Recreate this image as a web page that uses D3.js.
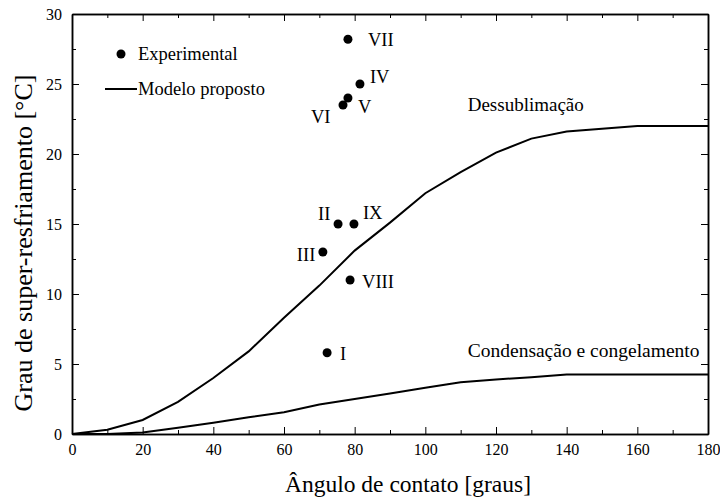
<!DOCTYPE html>
<html>
<head>
<meta charset="utf-8">
<script src="https://cdn.jsdelivr.net/npm/d3@7"></script>
<style>
  body { margin: 0; background: #fff; }
  svg text { font-family: "Liberation Serif", "Times New Roman", serif !important; }
</style>
</head>
<body>
<div id="chart"></div>
<script>
// model curves
const angles = [0, 10, 20, 30, 40, 50, 60, 70, 80, 90, 100, 110, 120, 130, 140, 150, 160, 170, 180];
const dessublimacao = [0, 0.3, 1, 2.3, 4, 5.9, 8.3, 10.6, 13.1, 15.1, 17.2, 18.7, 20.1, 21.1, 21.6, 21.8, 22, 22, 22];
const condensacao = [0, 0, 0.1, 0.45, 0.8, 1.2, 1.55, 2.1, 2.5, 2.9, 3.3, 3.7, 3.9, 4.05, 4.25, 4.25, 4.25, 4.25, 4.25];

// experimental points
const expLabels = ["I", "II", "III", "IV", "V", "VI", "VII", "VIII", "IX"];
const expAngle = [72.2, 75.3, 71, 81.5, 78.1, 76.7, 78.1, 78.7, 79.8];
const expSuper = [5.8, 15, 13, 25, 24, 23.5, 28.2, 11, 15];
// label offsets (dx, dy) relative to point
const labelOffsets = {
  I: [13, 7], II: [-20, -4], III: [-26, 9], IV: [10, -1], V: [10, 15],
  VI: [-32, 18], VII: [20, 7], VIII: [12, 8], IX: [9, -5]
};

const xTicks = [0, 20, 40, 60, 80, 100, 120, 140, 160, 180];
const yTicks = [0, 5, 10, 15, 20, 25, 30];

const W = 720, H = 499;
const margin = {top: 14, right: 12, bottom: 65, left: 72};
const FONT = "Liberation Serif";

const svg = d3.select("#chart").append("svg")
  .attr("width", W).attr("height", H);

const x = d3.scaleLinear().domain([0, 180]).range([margin.left, W - margin.right]);
const y = d3.scaleLinear().domain([0, 30]).range([H - margin.bottom, margin.top]);

function label(sel, size) {
  return sel.attr("font-family", FONT).style("font-family", FONT)
    .attr("font-size", size).attr("fill", "#000");
}

// axes with inward ticks
function styleAxis(g) {
  g.attr("font-family", FONT).attr("font-size", 16);
  g.select(".domain").attr("stroke", "#000").attr("stroke-width", 1.5);
  g.selectAll(".tick line").attr("stroke", "#000").attr("stroke-width", 1);
  g.selectAll("text").call(label, 16);
}

const xMinor = d3.range(10, 180, 20);
const yMinor = d3.range(2.5, 30, 5);

// bottom
svg.append("g").attr("transform", `translate(0,${y(0)})`)
  .call(d3.axisBottom(x).tickValues(xTicks).tickSizeInner(-7).tickSizeOuter(0).tickPadding(10))
  .call(styleAxis);
svg.append("g").attr("transform", `translate(0,${y(0)})`)
  .call(d3.axisBottom(x).tickValues(xMinor).tickSizeInner(-4).tickSizeOuter(0).tickFormat(""))
  .call(styleAxis);
// top
svg.append("g").attr("transform", `translate(0,${y(30)})`)
  .call(d3.axisTop(x).tickValues(xTicks).tickSizeInner(-7).tickSizeOuter(0).tickFormat(""))
  .call(styleAxis);
svg.append("g").attr("transform", `translate(0,${y(30)})`)
  .call(d3.axisTop(x).tickValues(xMinor).tickSizeInner(-4).tickSizeOuter(0).tickFormat(""))
  .call(styleAxis);
// left
svg.append("g").attr("transform", `translate(${x(0)},0)`)
  .call(d3.axisLeft(y).tickValues(yTicks).tickSizeInner(-7).tickSizeOuter(0).tickPadding(10))
  .call(styleAxis);
svg.append("g").attr("transform", `translate(${x(0)},0)`)
  .call(d3.axisLeft(y).tickValues(yMinor).tickSizeInner(-4).tickSizeOuter(0).tickFormat(""))
  .call(styleAxis);
// right
svg.append("g").attr("transform", `translate(${x(180)},0)`)
  .call(d3.axisRight(y).tickValues(yTicks).tickSizeInner(-7).tickSizeOuter(0).tickFormat(""))
  .call(styleAxis);
svg.append("g").attr("transform", `translate(${x(180)},0)`)
  .call(d3.axisRight(y).tickValues(yMinor).tickSizeInner(-4).tickSizeOuter(0).tickFormat(""))
  .call(styleAxis);

// model lines
const line = d3.line().x((d, i) => x(angles[i])).y(d => y(d));
[dessublimacao, condensacao].forEach(s => {
  svg.append("path").datum(s)
    .attr("d", line)
    .attr("fill", "none").attr("stroke", "#000").attr("stroke-width", 2);
});

// curve labels
svg.append("text").attr("x", x(112)).attr("y", y(23.1))
  .call(label, 19).text("Dessublimação");
svg.append("text").attr("x", x(112)).attr("y", y(5.5))
  .call(label, 19.5).text("Condensação e congelamento");

// experimental points
const pts = expLabels.map((l, i) => ({label: l, a: expAngle[i], v: expSuper[i]}));
svg.selectAll(".pt").data(pts).enter().append("circle")
  .attr("cx", d => x(d.a)).attr("cy", d => y(d.v)).attr("r", 4.5).attr("fill", "#000");
svg.selectAll(".ptlabel").data(pts).enter().append("text")
  .attr("x", d => x(d.a) + labelOffsets[d.label][0])
  .attr("y", d => y(d.v) + labelOffsets[d.label][1])
  .call(label, 18.5).text(d => d.label);

// legend
svg.append("circle").attr("cx", 121).attr("cy", 54).attr("r", 4.5).attr("fill", "#000");
svg.append("text").attr("x", 138).attr("y", 60).call(label, 18.5).text("Experimental");
svg.append("line").attr("x1", 105).attr("x2", 137).attr("y1", 89).attr("y2", 89)
  .attr("stroke", "#000").attr("stroke-width", 2);
svg.append("text").attr("x", 138).attr("y", 95).call(label, 18.5).text("Modelo proposto");

// axis titles
svg.append("text").attr("x", 408).attr("y", 492).attr("text-anchor", "middle")
  .call(label, 23.5).text("Ângulo de contato [graus]");
svg.append("text").attr("transform", "translate(32,243) rotate(-90)")
  .attr("text-anchor", "middle").call(label, 26).text("Grau de super-resfriamento [°C]");
</script>
</body>
</html>
